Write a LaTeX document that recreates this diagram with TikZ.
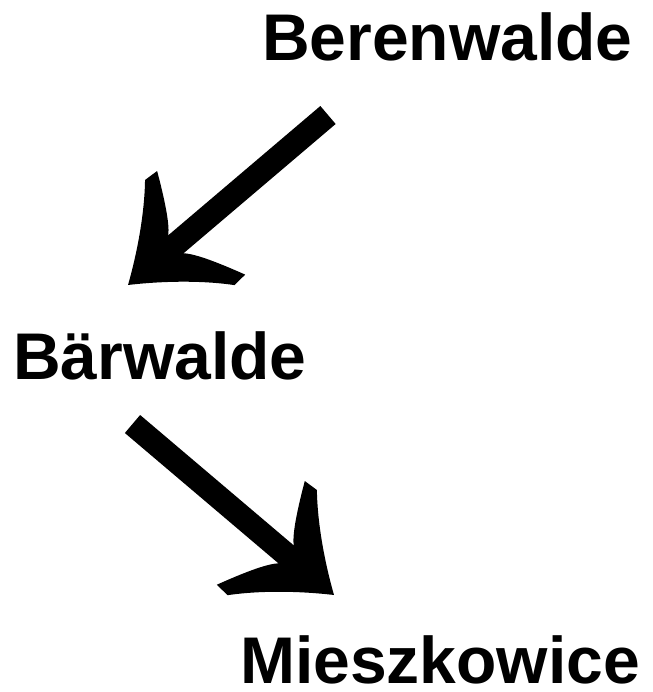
\documentclass[tikz,border=0pt]{standalone}
\usepackage{fontspec}
\setmainfont{Liberation Sans}
\usetikzlibrary{decorations.markings}
\tikzset{
  place/.style={anchor=base west, inner sep=0pt, font=\fontsize{66}{79}\selectfont\bfseries},
  shaft/.style={line width=23.6pt, line cap=butt, shorten >=60pt},
  headmark/.style={postaction={decorate}, decoration={markings,
    mark=at position 1 with {\fill (0,0) .. controls (-30,20) and (-60,45) .. (-81,69)
      -- (-96,68) .. controls (-85,45) and (-72,20) .. (-63,12)
      -- (-63,-12) .. controls (-72,-20) and (-85,-45) .. (-96,-68)
      -- (-81,-69) .. controls (-60,-45) and (-30,-20) .. (0,0) -- cycle;}}}
}
\begin{document}
\begin{tikzpicture}[x=1pt,y=-1pt]
\useasboundingbox (0,0) rectangle (652,692);
\fill[white] (0,0) rectangle (652,692);
\node[place] (ber) at (262,61) {Berenwalde};
\node[place] (bae) at (13,379) {Bärwalde};
\node[place] (mie) at (240,683) {Mieszkowice};
\coordinate (a1s) at (328,115);
\coordinate (a1e) at (128,285);
\coordinate (a2s) at (132.5,424);
\coordinate (a2e) at (334,595);
\draw[shaft] (a1s) -- (a1e);
\path[headmark] (a1s) -- (a1e);
\draw[shaft] (a2s) -- (a2e);
\path[headmark] (a2s) -- (a2e);
\end{tikzpicture}
\end{document}
